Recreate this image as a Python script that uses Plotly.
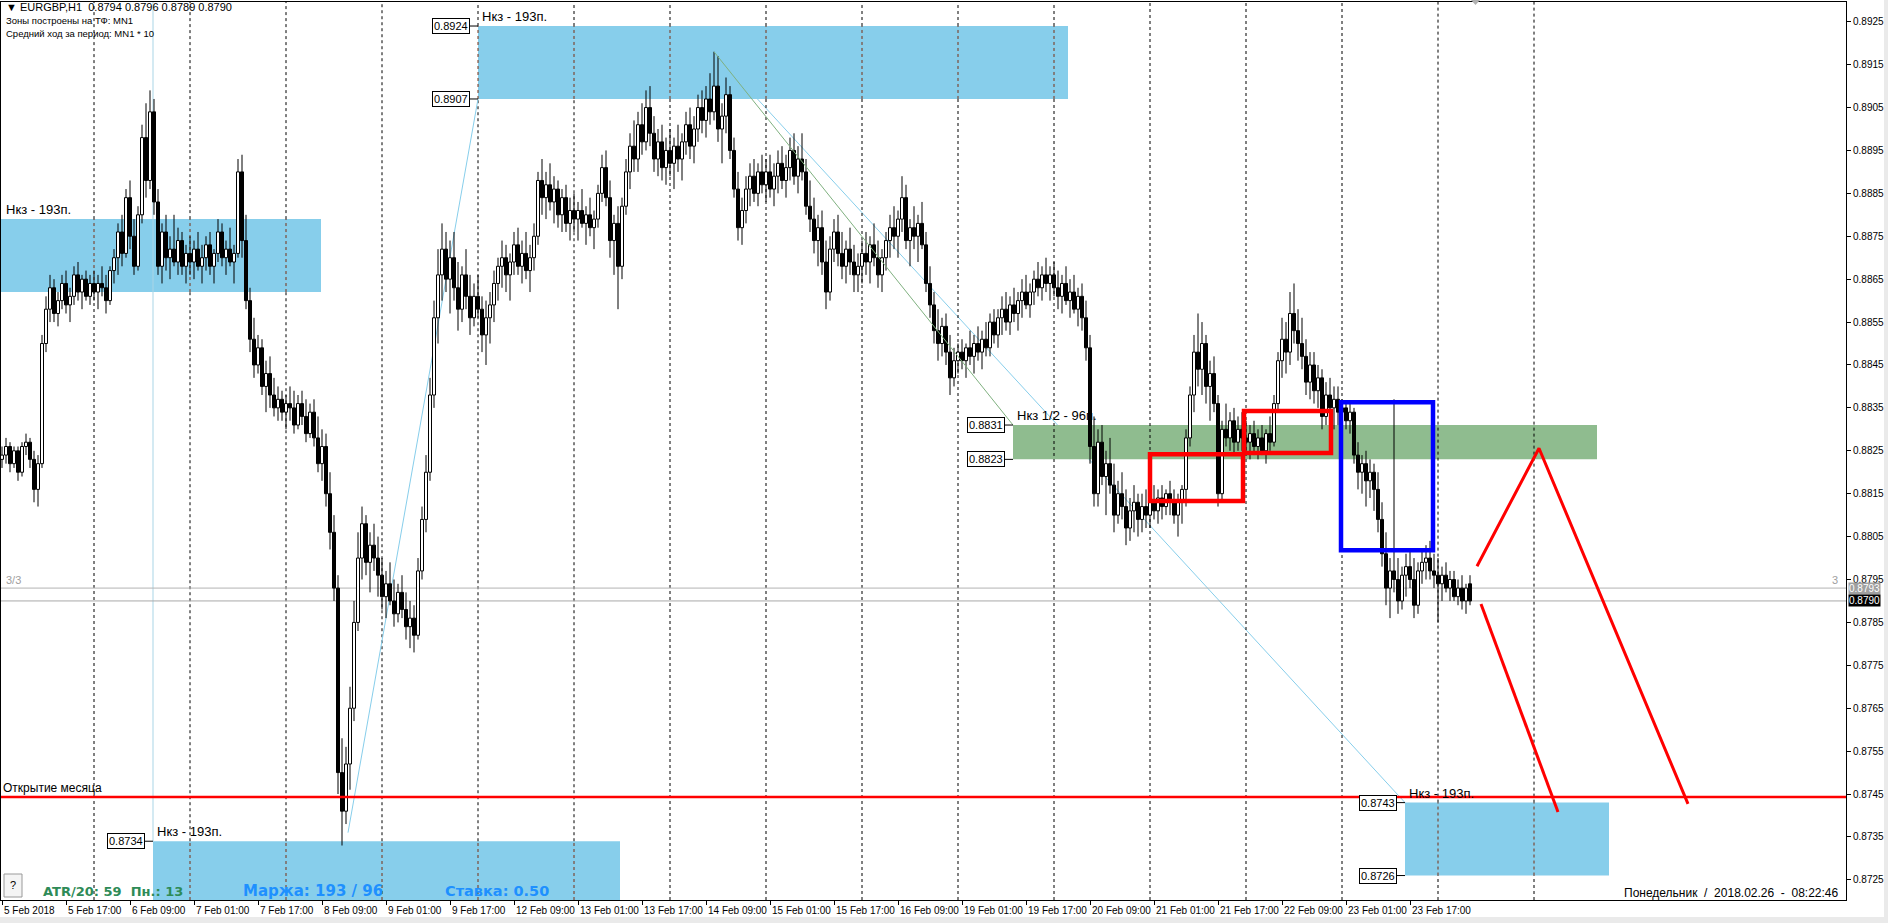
import plotly.graph_objects as go

PIP = 10000.0

# ---- hourly candles (open, high, low, close) in 1/10000 units ----
feb05 = [(8823,8826,8821,8824),(8824,8828,8822,8826),(8826,8827,8820,8822),(8822,8826,8821,8825),(8825,8826,8818,8820),(8820,8827,8819,8826),(8826,8829,8824,8827),(8827,8828,8821,8823),(8823,8825,8813,8816),(8816,8824,8812,8822),(8822,8852,8821,8850),(8850,8861,8848,8858),(8858,8866,8855,8863),(8863,8865,8855,8857),(8857,8862,8854,8860),(8860,8866,8858,8864),(8864,8867,8857,8859),(8859,8863,8855,8861),(8861,8868,8859,8866),(8866,8869,8860,8862),(8862,8866,8858,8865),(8865,8867,8860,8861),(8861,8866,8859,8864)]
feb06 = [(8864,8867,8860,8862),(8862,8866,8858,8864),(8864,8868,8861,8863),(8863,8866,8857,8860),(8860,8868,8859,8867),(8867,8872,8864,8870),(8870,8878,8866,8876),(8876,8880,8868,8871),(8871,8886,8870,8884),(8884,8888,8872,8875),(8875,8879,8866,8868),(8868,8882,8867,8880),(8880,8901,8878,8898),(8898,8906,8884,8888),(8888,8909,8886,8904),(8904,8907,8880,8883),(8883,8886,8866,8868),(8868,8878,8864,8876),(8876,8880,8867,8870),(8870,8875,8865,8872),(8872,8880,8868,8869),(8869,8877,8866,8874),(8874,8876,8866,8868),(8868,8873,8864,8871)]
feb07 = [(8871,8875,8866,8869),(8869,8874,8865,8872),(8872,8876,8867,8868),(8868,8873,8864,8870),(8870,8875,8867,8873),(8873,8876,8866,8868),(8868,8872,8864,8871),(8871,8879,8869,8876),(8876,8878,8868,8870),(8870,8874,8866,8872),(8872,8877,8868,8869),(8869,8873,8864,8871),(8871,8893,8870,8890),(8890,8894,8870,8874),(8874,8880,8858,8860),(8860,8863,8848,8851),(8851,8856,8842,8845),(8845,8852,8843,8849),(8849,8851,8838,8840),(8840,8846,8834,8843),(8843,8847,8835,8838),(8838,8842,8833,8835),(8835,8840,8832,8837),(8837,8839,8832,8834)]
feb08 = [(8834,8838,8830,8836),(8836,8840,8832,8835),(8835,8839,8829,8831),(8831,8838,8830,8836),(8836,8839,8831,8833),(8833,8837,8827,8829),(8829,8836,8828,8834),(8834,8837,8826,8828),(8828,8833,8820,8822),(8822,8830,8818,8826),(8826,8829,8812,8815),(8815,8820,8802,8806),(8806,8810,8790,8793),(8793,8796,8745,8750),(8750,8758,8733,8741),(8741,8756,8738,8752),(8752,8770,8746,8765),(8765,8790,8762,8785),(8785,8806,8783,8800),(8800,8812,8795,8808),(8808,8810,8796,8799),(8799,8806,8792,8803),(8803,8808,8797,8800),(8800,8805,8791,8796)]
feb09 = [(8796,8800,8788,8791),(8791,8797,8786,8794),(8794,8799,8789,8790),(8790,8795,8784,8787),(8787,8794,8785,8792),(8792,8796,8786,8788),(8788,8792,8781,8784),(8784,8790,8779,8786),(8786,8789,8778,8782),(8782,8800,8781,8797),(8797,8812,8795,8809),(8809,8824,8806,8820),(8820,8842,8818,8838),(8838,8860,8835,8856),(8856,8872,8850,8866),(8866,8878,8860,8872),(8872,8876,8862,8865),(8865,8874,8857,8870),(8870,8876,8860,8863),(8863,8869,8853,8858),(8858,8868,8855,8866),(8866,8872,8858,8861),(8861,8866,8852,8856),(8856,8864,8854,8861)]
feb12 = [(8861,8866,8856,8858),(8858,8861,8848,8852),(8852,8860,8845,8856),(8856,8862,8850,8859),(8859,8867,8855,8864),(8864,8870,8860,8868),(8868,8874,8863,8870),(8870,8873,8862,8866),(8866,8871,8860,8869),(8869,8876,8866,8873),(8873,8877,8866,8868),(8868,8874,8864,8871),(8871,8876,8865,8867),(8867,8873,8862,8870),(8870,8878,8867,8875),(8875,8890,8873,8888),(8888,8893,8880,8884),(8884,8890,8879,8887),(8887,8892,8881,8883),(8883,8889,8878,8886),(8886,8888,8877,8880),(8880,8886,8876,8884),(8884,8887,8876,8878),(8878,8884,8874,8881)]
feb13 = [(8881,8885,8876,8879),(8879,8883,8874,8881),(8881,8886,8877,8878),(8878,8882,8873,8880),(8880,8884,8875,8877),(8877,8881,8872,8879),(8879,8887,8877,8885),(8885,8894,8883,8891),(8891,8895,8882,8884),(8884,8888,8870,8874),(8874,8880,8866,8878),(8878,8882,8858,8868),(8868,8884,8865,8882),(8882,8893,8880,8890),(8890,8899,8886,8896),(8896,8902,8890,8893),(8893,8904,8890,8901),(8901,8906,8894,8897),(8897,8909,8895,8905),(8905,8910,8896,8899),(8899,8903,8890,8893),(8893,8900,8889,8897),(8897,8901,8888,8891),(8891,8898,8887,8895)]
feb14 = [(8895,8900,8889,8892),(8892,8898,8886,8896),(8896,8901,8890,8893),(8893,8899,8888,8897),(8897,8904,8894,8901),(8901,8905,8893,8896),(8896,8903,8892,8900),(8900,8908,8897,8905),(8905,8909,8899,8902),(8902,8910,8898,8907),(8907,8913,8901,8904),(8904,8918,8902,8910),(8910,8917,8897,8900),(8900,8906,8892,8903),(8903,8912,8899,8908),(8908,8910,8893,8895),(8895,8898,8884,8886),(8886,8890,8874,8877),(8877,8884,8873,8881),(8881,8889,8878,8886),(8886,8892,8882,8889),(8889,8893,8883,8885),(8885,8892,8882,8890),(8890,8894,8885,8887)]
feb15 = [(8887,8893,8883,8890),(8890,8894,8884,8886),(8886,8892,8882,8889),(8889,8895,8885,8892),(8892,8896,8886,8888),(8888,8894,8884,8891),(8891,8898,8888,8895),(8895,8899,8887,8889),(8889,8896,8885,8893),(8893,8899,8888,8890),(8890,8893,8880,8882),(8882,8888,8876,8879),(8879,8884,8871,8874),(8874,8880,8868,8877),(8877,8881,8866,8869),(8869,8874,8858,8862),(8862,8875,8860,8872),(8872,8879,8869,8876),(8876,8880,8868,8871),(8871,8876,8865,8868),(8868,8874,8864,8872),(8872,8877,8866,8869),(8869,8873,8862,8866),(8866,8871,8862,8868)]
feb16 = [(8868,8874,8864,8871),(8871,8876,8866,8869),(8869,8875,8864,8873),(8873,8878,8868,8870),(8870,8874,8863,8866),(8866,8872,8862,8870),(8870,8876,8867,8874),(8874,8880,8870,8877),(8877,8882,8872,8875),(8875,8881,8870,8879),(8879,8889,8876,8884),(8884,8887,8872,8874),(8874,8879,8868,8877),(8877,8882,8872,8875),(8875,8880,8869,8878),(8878,8883,8872,8873),(8873,8876,8862,8864),(8864,8868,8856,8859),(8859,8862,8850,8853),(8853,8858,8846,8850),(8850,8856,8847,8854),(8854,8857,8845,8848),(8848,8852,8838,8842),(8842,8849,8840,8846)]
feb19 = [(8846,8850,8843,8848),(8848,8851,8844,8846),(8846,8850,8842,8849),(8849,8853,8845,8847),(8847,8852,8843,8850),(8850,8854,8846,8848),(8848,8853,8844,8851),(8851,8855,8847,8849),(8849,8857,8847,8855),(8855,8858,8850,8852),(8852,8858,8849,8856),(8856,8861,8852,8858),(8858,8862,8853,8855),(8855,8861,8852,8859),(8859,8863,8855,8857),(8857,8862,8853,8860),(8860,8865,8856,8862),(8862,8866,8858,8859),(8859,8864,8856,8862),(8862,8867,8859,8865),(8865,8869,8861,8863),(8863,8868,8860,8866),(8866,8870,8862,8864),(8864,8868,8860,8866)]
feb20 = [(8866,8869,8861,8863),(8863,8867,8858,8861),(8861,8866,8857,8864),(8864,8868,8859,8860),(8860,8865,8856,8862),(8862,8866,8857,8858),(8858,8863,8854,8861),(8861,8864,8853,8856),(8856,8860,8846,8849),(8849,8852,8822,8826),(8826,8833,8812,8815),(8815,8830,8812,8827),(8827,8831,8817,8819),(8819,8825,8810,8822),(8822,8828,8815,8817),(8817,8822,8806,8810),(8810,8818,8808,8815),(8815,8820,8809,8812),(8812,8816,8803,8807),(8807,8814,8804,8811),(8811,8817,8806,8813),(8813,8815,8805,8809),(8809,8815,8806,8812),(8812,8816,8807,8810)]
feb21 = [(8810,8815,8807,8813),(8813,8817,8809,8811),(8811,8816,8808,8814),(8814,8817,8809,8812),(8812,8816,8810,8815),(8815,8818,8810,8813),(8813,8816,8808,8810),(8810,8815,8805,8813),(8813,8817,8808,8816),(8816,8830,8812,8828),(8828,8840,8826,8838),(8838,8852,8834,8848),(8848,8857,8840,8844),(8844,8855,8838,8850),(8850,8852,8836,8840),(8840,8846,8832,8843),(8843,8847,8834,8836),(8836,8838,8812,8815),(8815,8832,8813,8830),(8830,8836,8826,8828),(8828,8834,8825,8832),(8832,8835,8824,8827),(8827,8833,8825,8830),(8830,8834,8825,8828)]
feb22 = [(8828,8832,8824,8827),(8827,8831,8823,8829),(8829,8832,8824,8826),(8826,8830,8823,8828),(8828,8831,8824,8825),(8825,8830,8822,8829),(8829,8833,8825,8827),(8827,8838,8826,8836),(8836,8848,8834,8846),(8846,8856,8842,8851),(8851,8855,8843,8848),(8848,8862,8845,8857),(8857,8864,8850,8853),(8853,8858,8846,8850),(8850,8856,8844,8847),(8847,8851,8838,8841),(8841,8848,8837,8845),(8845,8848,8836,8839),(8839,8845,8835,8842),(8842,8844,8830,8833),(8833,8841,8831,8838),(8838,8842,8832,8835),(8835,8840,8830,8837),(8837,8840,8831,8834)]
feb23 = [(8834,8837,8830,8835),(8835,8836,8830,8832),(8832,8836,8829,8834),(8834,8835,8822,8824),(8824,8827,8816,8820),(8820,8824,8815,8822),(8822,8825,8812,8818),(8818,8823,8814,8820),(8820,8822,8811,8816),(8816,8820,8806,8809),(8809,8813,8798,8801),(8801,8806,8789,8793),(8793,8800,8786,8797),(8797,8837,8792,8795),(8795,8800,8787,8790),(8790,8798,8788,8796),(8796,8801,8791,8798),(8798,8802,8793,8795),(8795,8800,8786,8789),(8789,8799,8787,8797),(8797,8802,8794,8799),(8799,8803,8795,8800),(8800,8804,8795,8797),(8797,8801,8793,8796)]
feb26 = [(8796,8800,8785,8794),(8794,8798,8790,8796),(8796,8799,8792,8793),(8793,8797,8790,8795),(8795,8797,8790,8791),(8791,8795,8789,8793),(8793,8796,8788,8790),(8790,8794,8787,8793),(8794,8796,8789,8790)]

days = [feb05, feb06, feb07, feb08, feb09, feb12, feb13, feb14, feb15, feb16,
        feb19, feb20, feb21, feb22, feb23, feb26]

# ---- time axis (bar index, one bar per hour; bar 0 = 5 Feb 01:00) ----
time_tick_bars = [0, 16, 32, 48, 64, 80, 96, 112, 128, 144, 160, 176, 192, 208,
                  224, 240, 256, 272, 288, 304, 320, 336, 352]
time_tick_labels = ["5 Feb 2018", "5 Feb 17:00", "6 Feb 09:00", "7 Feb 01:00", "7 Feb 17:00",
                    "8 Feb 09:00", "9 Feb 01:00", "9 Feb 17:00", "12 Feb 09:00", "13 Feb 01:00",
                    "13 Feb 17:00", "14 Feb 09:00", "15 Feb 01:00", "15 Feb 17:00", "16 Feb 09:00",
                    "19 Feb 01:00", "19 Feb 17:00", "20 Feb 09:00", "21 Feb 01:00", "21 Feb 17:00",
                    "22 Feb 09:00", "23 Feb 01:00", "23 Feb 17:00"]
day_separator_bars = [23, 47, 71, 95, 119, 143, 167, 191, 215, 239, 263, 287, 311, 335, 359, 383]

price_ticks = ["0.8725", "0.8735", "0.8745", "0.8755", "0.8765", "0.8775", "0.8785", "0.8795",
               "0.8805", "0.8815", "0.8825", "0.8835", "0.8845", "0.8855", "0.8865", "0.8875",
               "0.8885", "0.8895", "0.8905", "0.8915", "0.8925"]

# ---- zones (bar index from/to, price top/bottom) ----
blue_zone_start = [-5, 119, 37.75, 350.75]
blue_zone_end = [79.75, 266.5, 154.5, 401.75]
blue_zone_top = [0.8879, 0.8924, 0.8734, 0.8743]
blue_zone_bottom = [0.8862, 0.8907, 0.8717, 0.8726]
blue_zone_label = ["Нкз - 193п.", "Нкз - 193п.", "Нкз - 193п.", "Нкз - 193п."]
blue_zone_price_boxes = [[], ["0.8924", "0.8907"], ["0.8734"], ["0.8743", "0.8726"]]

green_zone = dict(start=252.75, end=398.75, top=0.8831, bottom=0.8823, label="Нкз 1/2 - 96п.")
green_zone_price_boxes = ["0.8831", "0.8823"]

red_box_start = [287, 310.5]
red_box_end = [310.25, 332.25]
red_box_top = [0.88242, 0.88343]
red_box_bottom = [0.88133, 0.88245]
blue_box = dict(start=334.75, end=357.75, top=0.88363, bottom=0.88018)

forecast1_x = [368.75, 384.25, 421.5]
forecast1_y = [0.87981, 0.88256, 0.87427]
forecast2_x = [369.75, 389.0]
forecast2_y = [0.87893, 0.87408]

trend_up_x = [86.5, 119.0]
trend_up_y = [0.8736, 0.8907]
trend_down_blue_x = [178.0, 350.75]
trend_down_blue_y = [0.8918, 0.8743]
trend_down_green_x = [178.0, 252.75]
trend_down_green_y = [0.8918, 0.8831]

month_open = 0.87443
level_33 = 0.8793
bid = 0.8790

# ---- geometry of the frame ----
X_RANGE = [-0.25, 461]
Y_RANGE = [0.87203, 0.89296]
ML, MR, MT, MB = 1, 42, 2, 23
W, H = 1888, 923
PW = W - ML - MR
PH = H - MT - MB

FONT = "Liberation Sans, Arial, sans-serif"
WIDE = "DejaVu Sans, Verdana, sans-serif"
SKY = "#87CEEB"
GREEN_ZONE = "#8FBC8F"


def px_x(X):
    return (X - ML) / PW


def px_y(Y):
    return (H - MB - Y) / PH


bars = [b for d in days for b in d]
idx = list(range(len(bars)))
o = [b[0] / PIP for b in bars]
hi = [b[1] / PIP for b in bars]
lo = [b[2] / PIP for b in bars]
c = [b[3] / PIP for b in bars]

fig = go.Figure()

# wicks (split so they do not cross the hollow bodies)
wx, wy = [], []
for i in idx:
    top = max(o[i], c[i])
    bot = min(o[i], c[i])
    if hi[i] > top:
        wx += [i, i, None]
        wy += [hi[i], top, None]
    if lo[i] < bot:
        wx += [i, i, None]
        wy += [bot, lo[i], None]
fig.add_trace(go.Scatter(x=wx, y=wy, mode="lines", line=dict(color="black", width=1),
                         hoverinfo="skip", showlegend=False))

bases = [min(o[i], c[i]) for i in idx]
heights = [max(abs(c[i] - o[i]), 0.00002) for i in idx]
fills = ["white" if c[i] > o[i] else "black" for i in idx]
fig.add_trace(go.Bar(x=idx, y=heights, base=bases, width=0.75,
                     marker=dict(color=fills, line=dict(color="black", width=1)),
                     hoverinfo="skip", showlegend=False))

# forecast lines
fig.add_trace(go.Scatter(x=forecast1_x, y=forecast1_y, mode="lines",
                         line=dict(color="#FF0000", width=3), hoverinfo="skip", showlegend=False))
fig.add_trace(go.Scatter(x=forecast2_x, y=forecast2_y, mode="lines",
                         line=dict(color="#FF0000", width=3), hoverinfo="skip", showlegend=False))

shapes = []
# light-blue trend line hidden under the upper zone
shapes.append(dict(type="line", x0=trend_down_blue_x[0], y0=trend_down_blue_y[0],
                   x1=trend_down_blue_x[1], y1=trend_down_blue_y[1],
                   line=dict(color=SKY, width=1), layer="below"))
# zones
for s, e, t, b in zip(blue_zone_start, blue_zone_end, blue_zone_top, blue_zone_bottom):
    shapes.append(dict(type="rect", x0=s, x1=e, y0=b, y1=t, fillcolor=SKY,
                       line=dict(width=0), layer="below"))
shapes.append(dict(type="rect", x0=green_zone["start"], x1=green_zone["end"],
                   y0=green_zone["bottom"], y1=green_zone["top"], fillcolor=GREEN_ZONE,
                   line=dict(width=0), layer="below"))

# day separators (brownish where they cross the blue zones)
for xi in day_separator_bars:
    cuts = []
    for s, e, t, b in zip(blue_zone_start, blue_zone_end, blue_zone_top, blue_zone_bottom):
        if s <= xi <= e:
            cuts.append((max(b, Y_RANGE[0]), min(t, Y_RANGE[1])))
    cuts.sort()
    pos = Y_RANGE[0]
    segs = []
    for b, t in cuts:
        if b > pos:
            segs.append((pos, b, "black"))
        segs.append((b, t, "#7A2E12"))
        pos = t
    if pos < Y_RANGE[1]:
        segs.append((pos, Y_RANGE[1], "black"))
    for y0, y1, col in segs:
        shapes.append(dict(type="line", x0=xi, x1=xi, y0=y0, y1=y1,
                           line=dict(color=col, width=1, dash="3px,3px"), layer="below"))

# vertical line at the lower zone start, rising trend line
shapes.append(dict(type="line", x0=blue_zone_start[2], x1=blue_zone_start[2],
                   y0=blue_zone_top[2], y1=Y_RANGE[1], line=dict(color="#A9D5E6", width=1), layer="below"))
shapes.append(dict(type="line", x0=trend_up_x[0], y0=trend_up_y[0], x1=trend_up_x[1], y1=trend_up_y[1],
                   line=dict(color=SKY, width=1), layer="below"))
# grey horizontal levels
shapes.append(dict(type="line", x0=X_RANGE[0], x1=X_RANGE[1], y0=level_33, y1=level_33,
                   line=dict(color="#B4B4B4", width=1), layer="below"))
shapes.append(dict(type="line", x0=X_RANGE[0], x1=X_RANGE[1], y0=bid, y1=bid,
                   line=dict(color="#A8A8A8", width=1), layer="below"))

# green trend line
shapes.append(dict(type="line", x0=trend_down_green_x[0], y0=trend_down_green_y[0],
                   x1=trend_down_green_x[1], y1=trend_down_green_y[1],
                   line=dict(color="#7FB07F", width=1), layer="above"))
# red and blue boxes
for s, e, t, b in zip(red_box_start, red_box_end, red_box_top, red_box_bottom):
    shapes.append(dict(type="rect", x0=s, x1=e, y0=b, y1=t, line=dict(color="#FF0000", width=4.5),
                       fillcolor="rgba(0,0,0,0)", layer="above"))
shapes.append(dict(type="rect", x0=blue_box["start"], x1=blue_box["end"], y0=blue_box["bottom"],
                   y1=blue_box["top"], line=dict(color="#0000FF", width=4.5),
                   fillcolor="rgba(0,0,0,0)", layer="above"))
# month open line
shapes.append(dict(type="line", x0=X_RANGE[0], x1=X_RANGE[1], y0=month_open, y1=month_open,
                   line=dict(color="#FF0000", width=2.5), layer="above"))

annotations = []


def price_box(x_bar, price_txt):
    p = float(price_txt)
    shapes.append(dict(type="line", x0=x_bar - 2.0, x1=x_bar, y0=p, y1=p,
                       line=dict(color="black", width=1), layer="above"))
    annotations.append(dict(x=x_bar - 2.0, y=p, xref="x", yref="y", text=price_txt,
                            showarrow=False, xanchor="right", yanchor="middle",
                            font=dict(family=FONT, size=11, color="black"),
                            bgcolor="white", bordercolor="black", borderwidth=1, borderpad=1))


for k in range(len(blue_zone_start)):
    for txt in blue_zone_price_boxes[k]:
        price_box(blue_zone_start[k], txt)
for txt in green_zone_price_boxes:
    price_box(green_zone["start"], txt)

# zone labels
for k in range(len(blue_zone_start)):
    if blue_zone_start[k] < X_RANGE[0]:
        annotations.append(dict(x=0, xref="paper", xshift=3, y=blue_zone_top[k], yref="y",
                                text=blue_zone_label[k], showarrow=False, xanchor="left",
                                yanchor="bottom", font=dict(family=FONT, size=13, color="black")))
    else:
        annotations.append(dict(x=blue_zone_start[k], xref="x", xshift=2, y=blue_zone_top[k], yref="y",
                                text=blue_zone_label[k], showarrow=False, xanchor="left",
                                yanchor="bottom", font=dict(family=FONT, size=13, color="black")))
annotations.append(dict(x=green_zone["start"], xref="x", xshift=2, y=green_zone["top"], yref="y",
                        text=green_zone["label"], showarrow=False, xanchor="left", yanchor="bottom",
                        font=dict(family=FONT, size=13, color="black")))

annotations.append(dict(x=0, xref="paper", xshift=0, y=month_open, yref="y", text="Открытие месяца",
                        showarrow=False, xanchor="left", yanchor="bottom", yshift=0,
                        font=dict(family=FONT, size=12, color="black")))
annotations.append(dict(x=0, xref="paper", xshift=3, y=level_33, yref="y", text="3/3",
                        showarrow=False, xanchor="left", yanchor="bottom",
                        font=dict(family=FONT, size=11, color="#A0A0A0")))
annotations.append(dict(x=1, xref="paper", xshift=-6, y=level_33, yref="y", text="3",
                        showarrow=False, xanchor="right", yanchor="bottom",
                        font=dict(family=FONT, size=11, color="#A0A0A0")))

# price tags on the axis
annotations.append(dict(x=1, xref="paper", xshift=2, y=level_33, yref="y", text="0.8793",
                        showarrow=False, xanchor="left", yanchor="middle", bgcolor="#A0A0A0",
                        borderpad=0, font=dict(family=FONT, size=10, color="white")))
annotations.append(dict(x=1, xref="paper", xshift=2, y=bid, yref="y", text="0.8790",
                        showarrow=False, xanchor="left", yanchor="middle", bgcolor="black",
                        borderpad=0, font=dict(family=FONT, size=10, color="white")))

# time labels (left-aligned at their tick)
for b, t in zip(time_tick_bars, time_tick_labels):
    annotations.append(dict(x=b, xref="x", y=0, yref="paper", yshift=-10, text=t, showarrow=False,
                            xanchor="left", yanchor="middle",
                            font=dict(family=FONT, size=10, color="black")))

# header
header = ["▼ EURGBP,H1\u00a0\u00a00.8794 0.8796 0.8789 0.8790",
          "Зоны построены на ТФ: MN1",
          "Средний ход за период: MN1 * 10"]
header_size = [11, 9.5, 9.5]
for t, yc, fs in zip(header, [7, 21, 33], header_size):
    annotations.append(dict(x=px_x(4), xref="paper", y=px_y(yc), yref="paper", text=t,
                            showarrow=False, xanchor="left", yanchor="middle",
                            font=dict(family=FONT, size=fs, color="black")))

# bottom info
annotations.append(dict(x=px_x(41), xref="paper", y=px_y(891), yref="paper",
                        text="<b>ATR/20: 59\u00a0\u00a0Пн.: 13</b>", showarrow=False,
                        xanchor="left", yanchor="middle",
                        font=dict(family=WIDE, size=13, color="#2E8B57")))
annotations.append(dict(x=px_x(241), xref="paper", y=px_y(891), yref="paper",
                        text="<b>Маржа: 193 / 96</b>", showarrow=False, xanchor="left",
                        yanchor="middle", font=dict(family=WIDE, size=15, color="#1E90FF")))
annotations.append(dict(x=px_x(443), xref="paper", y=px_y(891), yref="paper",
                        text="<b>Ставка: 0.50</b>", showarrow=False, xanchor="left",
                        yanchor="middle", font=dict(family=WIDE, size=14.5, color="#1E90FF")))
annotations.append(dict(x=px_x(1841), xref="paper", y=px_y(893), yref="paper",
                        text="Понедельник\u00a0\u00a0/\u00a0\u00a02018.02.26\u00a0\u00a0-\u00a0\u00a008:22:46",
                        showarrow=False, xanchor="right", yanchor="middle",
                        font=dict(family=FONT, size=12, color="black")))
# "?" button
shapes.append(dict(type="rect", xref="paper", yref="paper", x0=px_x(4), x1=px_x(22),
                   y0=px_y(897), y1=px_y(874), fillcolor="#F4F4F4",
                   line=dict(color="#9A9A9A", width=1), layer="above"))
annotations.append(dict(x=px_x(13), xref="paper", y=px_y(885), yref="paper", text="?",
                        showarrow=False, xanchor="center", yanchor="middle",
                        font=dict(family=FONT, size=11, color="black")))
# window edges
shapes.append(dict(type="rect", xref="paper", yref="paper", x0=px_x(0), x1=px_x(W),
                   y0=px_y(H), y1=px_y(917), fillcolor="#EAEAEA", line=dict(width=0)))
shapes.append(dict(type="rect", xref="paper", yref="paper", x0=px_x(1884), x1=px_x(W),
                   y0=px_y(H), y1=px_y(0), fillcolor="#EAEAEA", line=dict(width=0)))
# chart shift marker
shapes.append(dict(type="path", xref="paper", yref="paper",
                   path="M {a},{t} L {b},{t} L {m},{u} Z".format(a=px_x(1471), b=px_x(1480),
                                                                m=px_x(1475.5), t=px_y(0), u=px_y(5)),
                   fillcolor="#B0B0B0", line=dict(width=0)))

fig.update_layout(
    width=W, height=H, margin=dict(l=ML, r=MR, t=MT, b=MB, pad=0),
    paper_bgcolor="white", plot_bgcolor="white", showlegend=False, barmode="overlay",
    font=dict(family=FONT, size=10, color="black"),
    shapes=shapes, annotations=annotations, hovermode=False,
)
fig.update_xaxes(range=X_RANGE, showgrid=False, zeroline=False, showline=True, linecolor="black",
                 linewidth=1, mirror=True, ticks="outside", ticklen=4, tickcolor="black",
                 tickvals=time_tick_bars, showticklabels=False, fixedrange=True)
fig.update_yaxes(range=Y_RANGE, side="right", showgrid=False, zeroline=False, showline=True,
                 linecolor="black", linewidth=1, mirror=True, ticks="outside", ticklen=4,
                 tickcolor="black", tickvals=[float(t) for t in price_ticks], ticktext=price_ticks,
                 tickfont=dict(family=FONT, size=10, color="black"), fixedrange=True)

fig.write_html("out.html", config={"displayModeBar": False},
               post_script="document.body.style.margin='0';document.body.style.overflow='hidden';")
